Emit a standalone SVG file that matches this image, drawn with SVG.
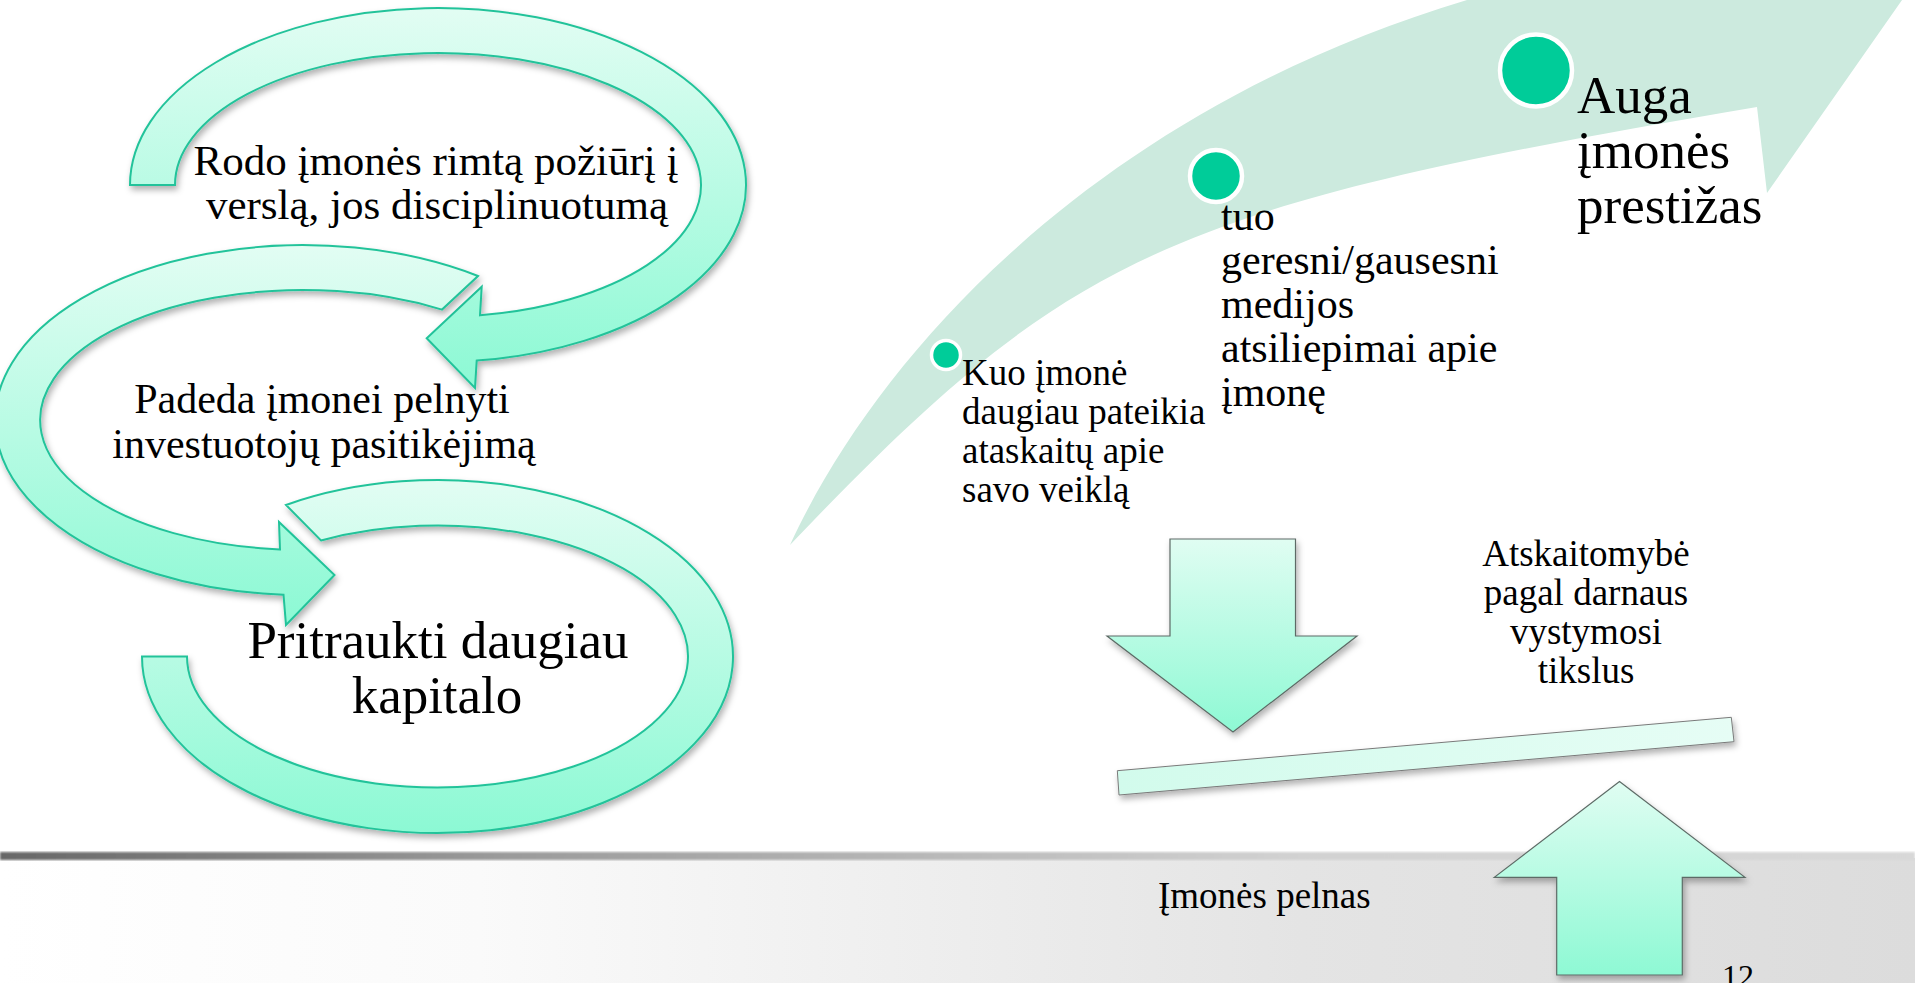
<svg xmlns="http://www.w3.org/2000/svg" width="1915" height="983" viewBox="0 0 1915 983">
<style>
.t{font-family:"Liberation Serif","Times New Roman",serif;fill:#000}
.loop{stroke:#22c39a;stroke-width:2;fill:url(#gLoop);filter:url(#sh)}
.blk{stroke:#5d6b66;stroke-width:1.2;fill:url(#gArr);filter:url(#sh)}
.dot{fill:#00cc99;stroke:#fff}
</style>
<defs>
<linearGradient id="gLoop" x1="0" y1="0" x2="0" y2="1">
<stop offset="0" stop-color="#e2fdf3"/>
<stop offset="1" stop-color="#8cf9d4"/>
</linearGradient>
<linearGradient id="gArr" x1="0" y1="0" x2="0" y2="1">
<stop offset="0" stop-color="#e0fdf2"/>
<stop offset="1" stop-color="#8ef9d4"/>
</linearGradient>
<linearGradient id="gBar" x1="0" y1="0" x2="1" y2="0">
<stop offset="0" stop-color="#d2fbec"/>
<stop offset="1" stop-color="#e6fdf5"/>
</linearGradient>
<linearGradient id="gLine" x1="0" y1="0" x2="1" y2="0">
<stop offset="0" stop-color="#686868"/>
<stop offset="0.26" stop-color="#9a9a9a"/>
<stop offset="0.68" stop-color="#d2d2d2"/>
<stop offset="1" stop-color="#d8d8d8"/>
</linearGradient>
<linearGradient id="gFoot" x1="0" y1="0" x2="1" y2="0">
<stop offset="0" stop-color="#ffffff"/>
<stop offset="0.25" stop-color="#fafafa"/>
<stop offset="0.68" stop-color="#e4e4e4"/>
<stop offset="1" stop-color="#dcdcdc"/>
</linearGradient>
<filter id="sh" x="-10%" y="-10%" width="120%" height="130%">
<feDropShadow dx="2" dy="4" stdDeviation="3" flood-color="#000" flood-opacity="0.3"/>
</filter>
<filter id="blur"><feGaussianBlur stdDeviation="0.8"/></filter>
</defs>

<rect x="0" y="0" width="1915" height="983" fill="#ffffff"/>

<g id="footer">
<rect x="0" y="858" width="1915" height="125" fill="url(#gFoot)"/>
<rect x="0" y="852" width="1915" height="8" fill="url(#gLine)" filter="url(#blur)"/>
</g>

<g id="connectors">
<path id="loop1" class="loop" d="M 130,185 A 308,177 0 1 1 476.7,360.6 L 475,388 L 426.7,338.3 L 481.7,286.7 L 480,315.3 A 263,132 0 1 0 175,185 Z"/>
<path id="loop2" class="loop" d="M 478,276 A 308,175 0 1 0 283.5,594.7 L 286,625 L 334.5,575 L 279,522 L 280,549.5 A 263,130 0 1 1 442,309.6 Z"/>
<path id="loop3" class="loop" d="M 286,505 A 295.5,176.5 0 1 1 142,656.5 L 187,656.5 A 250.5,131 0 1 0 321,540.5 Z"/>
<path id="bigArrow" fill="#cceade" d="M 790,545 C 880,350 1100,110 1467,0 L 1520,-30 L 1958,-80 L 1767,193 L 1757,107 C 1167,207 1070,251 790,545 Z"/>
<polygon id="downArrow" class="blk" points="1170,539 1295.5,539 1295.5,636 1357,636 1233,732 1107,636 1170,636"/>
<polygon id="lever" points="1117.3,770.7 1731.3,717.3 1734,741.7 1119,795" fill="url(#gBar)" stroke="#7a7a7a" stroke-width="1" filter="url(#sh)"/>
<polygon id="upArrow" class="blk" points="1619.5,781.5 1745,877.3 1682.3,877.3 1682.3,975 1556.7,975 1556.7,877.3 1494.3,877.3"/>
</g>

<g id="node-rodo">
<text class="t" font-size="43" text-anchor="middle" x="436" y="175">Rodo įmonės rimtą požiūrį į</text>
<text class="t" font-size="43" text-anchor="middle" x="437" y="219">verslą, jos disciplinuotumą</text>
</g>
<g id="node-padeda">
<text class="t" font-size="42" text-anchor="middle" x="322" y="413">Padeda įmonei pelnyti</text>
<text class="t" font-size="42" text-anchor="middle" x="324" y="458">investuotojų pasitikėjimą</text>
</g>
<g id="node-pritraukti">
<text class="t" font-size="53" text-anchor="middle" x="438" y="658">Pritraukti daugiau</text>
<text class="t" font-size="53" text-anchor="middle" x="437" y="713">kapitalo</text>
</g>

<g id="node-kuo">
<circle class="dot" cx="946" cy="355" r="14.5" stroke-width="3.5"/>
<text class="t" font-size="37" x="962" y="385">Kuo įmonė</text>
<text class="t" font-size="37" x="962" y="424">daugiau pateikia</text>
<text class="t" font-size="37" x="962" y="463">ataskaitų apie</text>
<text class="t" font-size="37" x="962" y="502">savo veiklą</text>
</g>
<g id="node-tuo">
<circle class="dot" cx="1216" cy="176" r="26" stroke-width="4.5"/>
<text class="t" font-size="42" x="1221" y="230">tuo</text>
<text class="t" font-size="42" x="1221" y="274">geresni/gausesni</text>
<text class="t" font-size="42" x="1221" y="318">medijos</text>
<text class="t" font-size="42" x="1221" y="362">atsiliepimai apie</text>
<text class="t" font-size="42" x="1221" y="406">įmonę</text>
</g>
<g id="node-auga">
<circle class="dot" cx="1536" cy="70.5" r="36" stroke-width="4.5"/>
<text class="t" font-size="53" x="1577" y="113">Auga</text>
<text class="t" font-size="53" x="1577" y="168">įmonės</text>
<text class="t" font-size="53" x="1577" y="223">prestižas</text>
</g>
<g id="node-atskaitomybe">
<text class="t" font-size="37" text-anchor="middle" x="1586" y="566">Atskaitomybė</text>
<text class="t" font-size="37" text-anchor="middle" x="1586" y="605">pagal darnaus</text>
<text class="t" font-size="37" text-anchor="middle" x="1586" y="644">vystymosi</text>
<text class="t" font-size="37" text-anchor="middle" x="1586" y="683">tikslus</text>
</g>
<g id="node-pelnas">
<text class="t" font-size="37" x="1158" y="908">Įmonės pelnas</text>
</g>
<g id="page-number">
<text class="t" font-size="32" x="1722" y="987">12</text>
</g>
</svg>
